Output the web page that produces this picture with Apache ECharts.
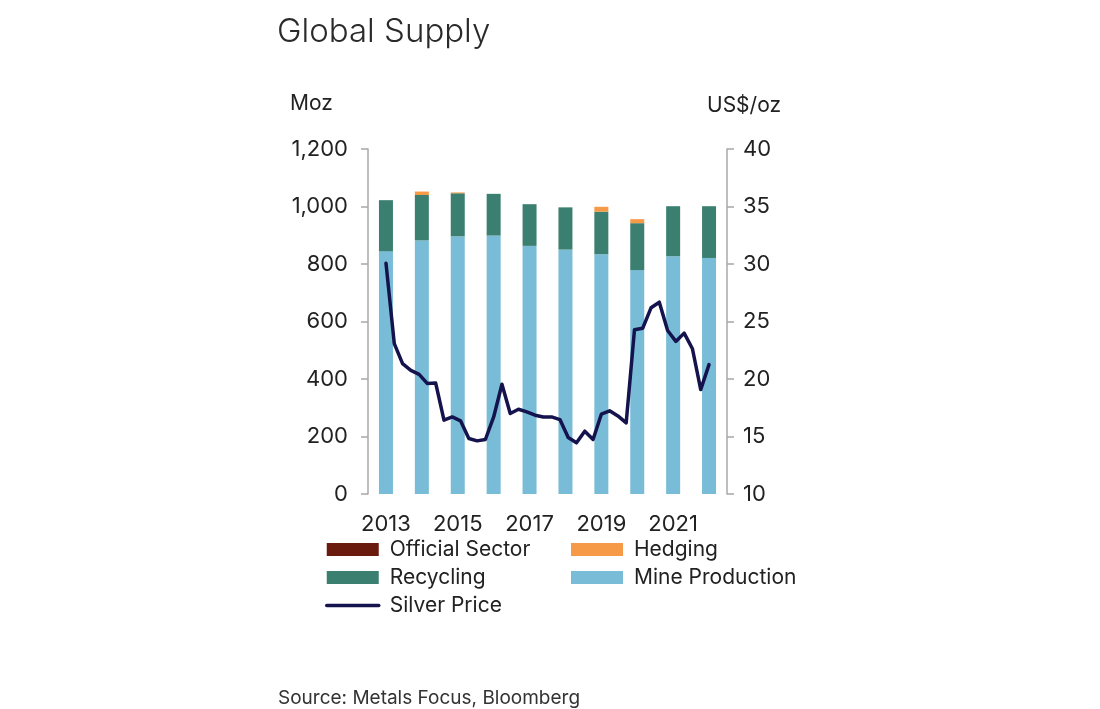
<!DOCTYPE html>
<html>
<head>
<meta charset="utf-8">
<script src="https://cdn.jsdelivr.net/npm/echarts@6/dist/echarts.min.js"></script>
<style>
html,body{margin:0;padding:0;background:#fff;}
#chart{width:1100px;height:709px;}
</style>
</head>
<body>
<div id="chart"></div>
<script>
var years = ['2013','2014','2015','2016','2017','2018','2019','2020','2021','2022'];
var mineProduction = [844, 882, 896, 899, 863, 850, 834, 779, 827, 821];
var recycling = [178, 158, 150, 145, 145, 147, 148, 163, 174, 180];
var hedging = [0, 12, 3, 0, 0, 0, 17, 14, 0, 0];
var officialSector = [0, 0, 0, 0, 0, 0, 0, 0, 0, 0];
var quarters = [];
years.forEach(function(y){ ['Q1','Q2','Q3','Q4'].forEach(function(q){ quarters.push(y + q); }); });
var silverPrice = [30.06, 23.07, 21.33, 20.75, 20.40, 19.60, 19.65, 16.42, 16.70, 16.36,
  14.83, 14.62, 14.74, 16.70, 19.54, 17.00, 17.37, 17.14, 16.85, 16.70,
  16.70, 16.47, 14.92, 14.45, 15.46, 14.74, 16.94, 17.23, 16.79, 16.18,
  24.28, 24.42, 26.19, 26.68, 24.22, 23.27, 23.99, 22.63, 19.08, 21.25];
var leftTicks = [0, 1200, 200];
var rightTicks = [10, 40, 5];

var FONT = 'Inter, "Open Sans", "Noto Sans", sans-serif';
var C = {
  mine: '#78bcd7', recycling: '#3a7f6f', hedging: '#f79a47', official: '#6b1a0e', price: '#14134d',
  axis: '#a8a8a8', text: '#222222'
};
var chart = echarts.init(document.getElementById('chart'), null, {renderer: 'canvas'});
var axisLineStyle = {show: true, lineStyle: {color: C.axis, width: 1.5}};
var legendCommon = {
  orient: 'vertical', itemWidth: 52, itemHeight: 13, itemGap: 7, padding: 0,
  textStyle: {fontSize: 21, color: C.text, lineHeight: 20, padding: [0,0,0,6], fontFamily: FONT}
};
var option = {
  backgroundColor: '#ffffff',
  animation: false,
  textStyle: {fontFamily: FONT},
  title: {
    text: 'Global Supply', left: 272, top: 11,
    textStyle: {fontFamily: FONT, fontSize: 33, fontWeight: 300, color: '#2a2a2a'}
  },
  graphic: [
    {type: 'text', left: 290, top: 93, style: {text: 'Moz', font: '21px ' + FONT, fill: C.text}},
    {type: 'text', left: 707, top: 95, style: {text: 'US$/oz', font: '21px ' + FONT, fill: C.text}},
    {type: 'text', left: 278, top: 689, style: {text: 'Source: Metals Focus, Bloomberg', font: '19px ' + FONT, fill: '#333'}}
  ],
  legend: [
    Object.assign({}, legendCommon, {
      left: 325, top: 539,
      data: [{name: 'Official Sector', icon: 'rect'}, {name: 'Recycling', icon: 'rect'},
        {name: 'Silver Price', itemStyle: {opacity: 0, borderWidth: 0},
         lineStyle: {width: 3.5, cap: 'round'}}]
    }),
    Object.assign({}, legendCommon, {
      left: 571, top: 539,
      data: [{name: 'Hedging', icon: 'rect'}, {name: 'Mine Production', icon: 'rect'}]
    })
  ],
  grid: [
    {left: 368, right: 373, top: 149, bottom: 215},
    {left: 386, right: 391, top: 149, bottom: 215}
  ],
  xAxis: [
    {
      type: 'category', gridIndex: 0, data: years,
      axisLine: {show: false}, axisTick: {show: false},
      axisLabel: {interval: 1, margin: 19, fontSize: 22, color: C.text, fontFamily: FONT}
    },
    {
      type: 'category', gridIndex: 1, data: quarters, boundaryGap: false, show: false
    }
  ],
  yAxis: [
    {
      type: 'value', gridIndex: 0, min: leftTicks[0], max: leftTicks[1], interval: leftTicks[2],
      axisLine: axisLineStyle,
      axisTick: {show: true, length: 7, lineStyle: {color: C.axis, width: 1.5}},
      splitLine: {show: false},
      axisLabel: {margin: 20, fontSize: 22, color: C.text, fontFamily: FONT,
        formatter: function(v){ return v.toLocaleString('en-US'); }}
    },
    {
      type: 'value', gridIndex: 1, position: 'right', offset: 18,
      min: rightTicks[0], max: rightTicks[1], interval: rightTicks[2],
      axisLine: axisLineStyle,
      axisTick: {show: true, length: 7, lineStyle: {color: C.axis, width: 1.5}},
      splitLine: {show: false},
      axisLabel: {margin: 16, fontSize: 22, color: C.text, fontFamily: FONT}
    }
  ],
  series: [
    {name: 'Mine Production', type: 'bar', stack: 's', barWidth: 14, xAxisIndex: 0, yAxisIndex: 0,
      itemStyle: {color: C.mine}, data: mineProduction},
    {name: 'Recycling', type: 'bar', stack: 's', barWidth: 14, xAxisIndex: 0, yAxisIndex: 0,
      itemStyle: {color: C.recycling}, data: recycling},
    {name: 'Hedging', type: 'bar', stack: 's', barWidth: 14, xAxisIndex: 0, yAxisIndex: 0,
      itemStyle: {color: C.hedging}, data: hedging},
    {name: 'Official Sector', type: 'bar', stack: 's', barWidth: 14, xAxisIndex: 0, yAxisIndex: 0,
      itemStyle: {color: C.official}, data: officialSector},
    {name: 'Silver Price', type: 'line', xAxisIndex: 1, yAxisIndex: 1,
      symbol: 'none', showSymbol: false,
      lineStyle: {color: C.price, width: 3.5, cap: 'round', join: 'round'}, itemStyle: {color: C.price},
      data: silverPrice}
  ]
};
chart.setOption(option);
</script>
</body>
</html>
